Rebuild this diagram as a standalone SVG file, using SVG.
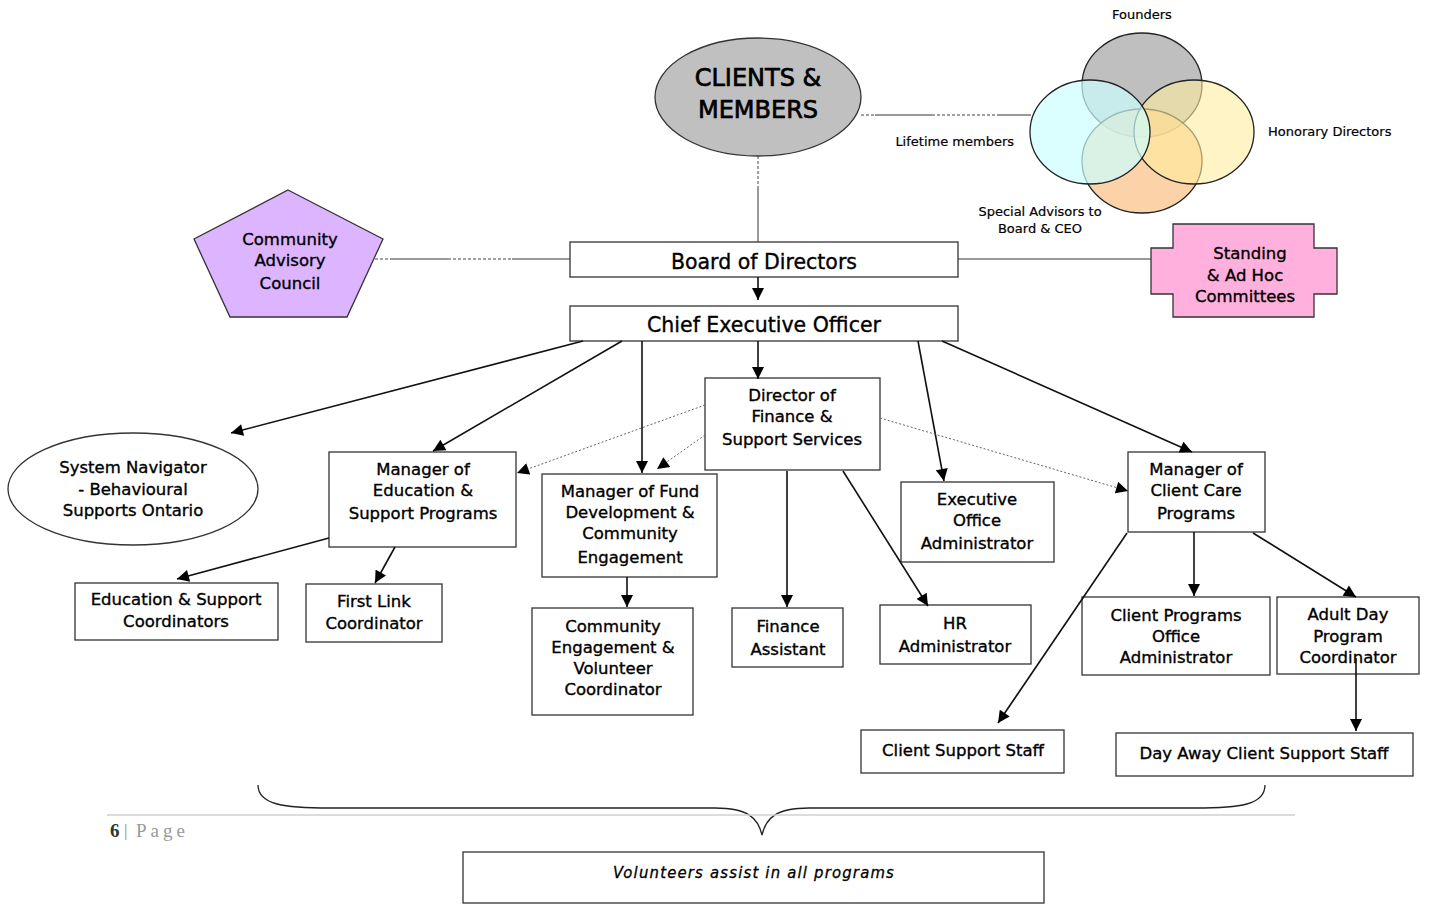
<svg xmlns="http://www.w3.org/2000/svg" width="1430" height="904" viewBox="0 0 1430 904">
<style>
.t{font-family:"DejaVu Sans",Verdana,sans-serif;font-size:16.5px;fill:#000;stroke:#000;stroke-width:0.35;text-anchor:middle}
.s{font-family:"DejaVu Sans",Verdana,sans-serif;font-size:13px;fill:#000;stroke:#000;stroke-width:0.2}
.box{fill:#fff;stroke:#333;stroke-width:1.3}
.ar{stroke:#111;stroke-width:1.6;fill:none;marker-end:url(#ah)}
.dot{stroke:#666;stroke-width:1;stroke-dasharray:2,2;fill:none;marker-end:url(#ah)}
.dash{stroke:#444;stroke-width:1;stroke-dasharray:3,2;fill:none}
.thin{stroke:#333;stroke-width:1;fill:none}
</style>
<defs>
<marker id="ah" viewBox="0 0 12 12" refX="12" refY="6" markerWidth="13" markerHeight="12" markerUnits="userSpaceOnUse" orient="auto">
<path d="M0,0 L12,6 L0,12 z" fill="#000"/>
</marker>
</defs>
<rect width="1430" height="904" fill="#fff"/>

<g id="clients">
<ellipse cx="758" cy="97" rx="103" ry="59" fill="#c0c0c0" stroke="#333" stroke-width="1.3"/>
<text class="t" x="758" y="86" style="font-size:24px;stroke-width:0.7">CLIENTS &amp;</text>
<text class="t" x="758" y="118" style="font-size:24px;stroke-width:0.7">MEMBERS</text>
</g>

<g id="venn">
<ellipse cx="1142" cy="85" rx="60" ry="52" fill="#bfbfbf" stroke="#222" stroke-width="1.3"/>
<ellipse cx="1142" cy="161" rx="60" ry="52" fill="#fbc48c" fill-opacity="0.75" stroke="#222" stroke-width="1.3"/>
<ellipse cx="1194" cy="132" rx="60" ry="52" fill="#ffec9e" fill-opacity="0.6" stroke="#222" stroke-width="1.3"/>
<ellipse cx="1090" cy="132" rx="60" ry="52" fill="#ccffff" fill-opacity="0.7" stroke="#222" stroke-width="1.3"/>
<text class="s" x="1142" y="19" text-anchor="middle">Founders</text>
<text class="s" x="1268" y="136">Honorary Directors</text>
<text class="s" x="1014" y="146" text-anchor="end">Lifetime members</text>
<text class="s" x="1040" y="216" text-anchor="middle">Special Advisors to</text>
<text class="s" x="1040" y="233" text-anchor="middle">Board &amp; CEO</text>
</g>

<g id="cac">
<polygon points="288,190 383,239 347,317 230,317 194,239" fill="#dcb4ff" stroke="#333" stroke-width="1.3"/>
<text class="t" x="290" y="245">Community</text>
<text class="t" x="290" y="266">Advisory</text>
<text class="t" x="290" y="289">Council</text>
</g>

<g id="committees">
<polygon points="1173,224 1314,224 1314,248 1337,248 1337,294 1314,294 1314,317 1173,317 1173,294 1151,294 1151,248 1173,248" fill="#ffb0dc" stroke="#333" stroke-width="1.3"/>
<text class="t" x="1250" y="259">Standing</text>
<text class="t" x="1245" y="281">&amp; Ad Hoc</text>
<text class="t" x="1245" y="302">Committees</text>
</g>

<g id="board">
<rect class="box" x="570" y="242" width="388" height="35"/>
<text class="t" x="764" y="269" style="font-size:20.5px">Board of Directors</text>
</g>

<g id="ceo">
<rect class="box" x="570" y="306" width="388" height="35"/>
<text class="t" x="764" y="332" style="font-size:20.5px">Chief Executive Officer</text>
</g>

<g id="navigator">
<ellipse cx="133" cy="489" rx="125" ry="56" fill="#fff" stroke="#333" stroke-width="1.3"/>
<text class="t" x="133" y="473">System Navigator</text>
<text class="t" x="133" y="495">- Behavioural</text>
<text class="t" x="133" y="516">Supports Ontario</text>
</g>

<g id="mgr-education">
<rect class="box" x="329" y="452" width="187" height="95"/>
<text class="t" x="423" y="475">Manager of</text>
<text class="t" x="423" y="496">Education &amp;</text>
<text class="t" x="423" y="519">Support Programs</text>
</g>

<g id="mgr-fund">
<rect class="box" x="542" y="474" width="175" height="103"/>
<text class="t" x="630" y="497">Manager of Fund</text>
<text class="t" x="630" y="518">Development &amp;</text>
<text class="t" x="630" y="539">Community</text>
<text class="t" x="630" y="563">Engagement</text>
</g>

<g id="director-finance">
<rect class="box" x="705" y="378" width="175" height="92"/>
<text class="t" x="792" y="401">Director of</text>
<text class="t" x="792" y="422">Finance &amp;</text>
<text class="t" x="792" y="445">Support Services</text>
</g>

<g id="exec-office">
<rect class="box" x="901" y="482" width="153" height="80"/>
<text class="t" x="977" y="505">Executive</text>
<text class="t" x="977" y="526">Office</text>
<text class="t" x="977" y="549">Administrator</text>
</g>

<g id="mgr-client-care">
<rect class="box" x="1128" y="452" width="137" height="80"/>
<text class="t" x="1196" y="475">Manager of</text>
<text class="t" x="1196" y="496">Client Care</text>
<text class="t" x="1196" y="519">Programs</text>
</g>

<g id="edu-coordinators">
<rect class="box" x="75" y="583" width="203" height="57"/>
<text class="t" x="176" y="605">Education &amp; Support</text>
<text class="t" x="176" y="627">Coordinators</text>
</g>

<g id="first-link">
<rect class="box" x="306" y="584" width="136" height="58"/>
<text class="t" x="374" y="607">First Link</text>
<text class="t" x="374" y="629">Coordinator</text>
</g>

<g id="community-volunteer">
<rect class="box" x="532" y="608" width="161" height="107"/>
<text class="t" x="613" y="632">Community</text>
<text class="t" x="613" y="653">Engagement &amp;</text>
<text class="t" x="613" y="674">Volunteer</text>
<text class="t" x="613" y="695">Coordinator</text>
</g>

<g id="finance-assistant">
<rect class="box" x="732" y="608" width="111" height="59"/>
<text class="t" x="788" y="632">Finance</text>
<text class="t" x="788" y="655">Assistant</text>
</g>

<g id="hr">
<rect class="box" x="880" y="605" width="151" height="59"/>
<text class="t" x="955" y="629">HR</text>
<text class="t" x="955" y="652">Administrator</text>
</g>

<g id="client-programs-office">
<rect class="box" x="1082" y="597" width="188" height="78"/>
<text class="t" x="1176" y="621">Client Programs</text>
<text class="t" x="1176" y="642">Office</text>
<text class="t" x="1176" y="663">Administrator</text>
</g>

<g id="adult-day">
<rect class="box" x="1277" y="597" width="142" height="77"/>
<text class="t" x="1348" y="620">Adult Day</text>
<text class="t" x="1348" y="642">Program</text>
<text class="t" x="1348" y="663">Coordinator</text>
</g>

<g id="client-support">
<rect class="box" x="861" y="730" width="203" height="43"/>
<text class="t" x="963" y="756">Client Support Staff</text>
</g>

<g id="day-away">
<rect class="box" x="1116" y="733" width="297" height="43"/>
<text class="t" x="1264" y="759">Day Away Client Support Staff</text>
</g>

<g id="brace">
<path d="M258,785 C258,805 285,808 330,808 L715,808 C748,808 758,818 762,835 C766,818 776,808 809,808 L1195,808 C1240,808 1265,805 1265,785" fill="none" stroke="#222" stroke-width="1.3"/>
</g>

<g id="footer">
<line x1="107" y1="815" x2="1295" y2="815" stroke="#d0d0d0" stroke-width="1.5"/>
<text x="110" y="837" font-family="Liberation Serif, serif" font-size="19" font-weight="bold" fill="#333">6</text>
<text x="124" y="836" font-family="Liberation Serif, serif" font-size="17" fill="#888">|</text>
<text x="136" y="837" font-family="Liberation Serif, serif" font-size="19" fill="#999" letter-spacing="4">Page</text>
</g>

<g id="volunteers">
<rect class="box" x="463" y="852" width="581" height="51"/>
<text x="754" y="878" font-family="DejaVu Sans Condensed, DejaVu Sans, sans-serif" font-style="italic" font-size="16.5" letter-spacing="1.2" fill="#000" stroke="#000" stroke-width="0.3" text-anchor="middle">Volunteers assist in all programs</text>
</g>

<g id="connectors">
<line class="dash" x1="758" y1="156" x2="758" y2="187"/>
<line class="thin" x1="758" y1="187" x2="758" y2="242"/>
<line class="dash" x1="861" y1="115" x2="875" y2="115"/>
<line class="thin" x1="875" y1="115" x2="932" y2="115"/>
<line class="dash" x1="932" y1="115" x2="997" y2="115"/>
<line class="thin" x1="997" y1="115" x2="1031" y2="115"/>
<line class="dash" x1="375" y1="259" x2="390" y2="259"/>
<line class="thin" x1="390" y1="259" x2="448" y2="259"/>
<line class="dash" x1="448" y1="259" x2="512" y2="259"/>
<line class="thin" x1="512" y1="259" x2="570" y2="259"/>
<line class="thin" x1="958" y1="259" x2="1151" y2="259"/>
<line class="ar" x1="758" y1="277" x2="758" y2="300"/>
<line class="ar" x1="583" y1="341" x2="231" y2="433"/>
<line class="ar" x1="622" y1="341" x2="433" y2="451"/>
<line class="ar" x1="642" y1="341" x2="642" y2="473"/>
<line class="ar" x1="758" y1="341" x2="758" y2="379"/>
<line class="ar" x1="918" y1="341" x2="944" y2="481"/>
<line class="ar" x1="942" y1="341" x2="1192" y2="452"/>
<line class="dot" x1="705" y1="405" x2="517" y2="473"/>
<line class="dot" x1="705" y1="435" x2="657" y2="469"/>
<line class="dot" x1="880" y1="418" x2="1128" y2="491"/>
<line class="ar" x1="329" y1="538" x2="177" y2="579"/>
<line class="ar" x1="395" y1="547" x2="375" y2="583"/>
<line class="ar" x1="627" y1="577" x2="627" y2="607"/>
<line class="ar" x1="787" y1="471" x2="787" y2="607"/>
<line class="ar" x1="843" y1="471" x2="928" y2="606"/>
<line class="ar" x1="1127" y1="533" x2="998" y2="723"/>
<line class="ar" x1="1194" y1="532" x2="1194" y2="596"/>
<line class="ar" x1="1253" y1="533" x2="1356" y2="597"/>
<line class="ar" x1="1356" y1="658" x2="1356" y2="731"/>
</g>
</svg>
